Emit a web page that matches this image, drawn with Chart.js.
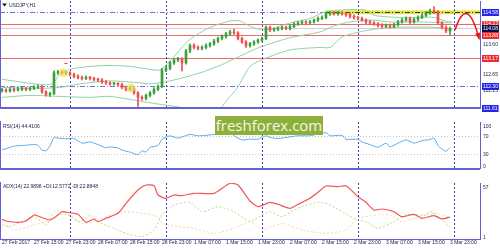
<!DOCTYPE html>
<html>
<head>
<meta charset="utf-8">
<title>USDJPY H1</title>
<script src="https://cdn.jsdelivr.net/npm/chart.js@4/dist/chart.umd.min.js"></script>
<style>
  body { margin: 0; background: #fff; }
  #wrap { position: relative; width: 500px; height: 250px; overflow: hidden; background: #fff; }
  #wrap canvas { position: absolute; left: 0; }
  #brand {
    position: absolute; left: 215px; top: 116px; width: 108px; height: 19px;
    background: #8db03a; color: #f4f6ea; font: 15px "Open Sans", sans-serif;
    line-height: 19px; text-align: center; overflow: hidden; z-index: 5;
  }
</style>
</head>
<body>
<div id="wrap">
  <canvas id="mainChart" width="500" height="123" style="top:0"></canvas>
  <canvas id="rsiChart" width="500" height="60" style="top:121px"></canvas>
  <canvas id="adxChart" width="500" height="69" style="top:181px"></canvas>
  <div id="brand">freshforex.com</div>
</div>
<script>
// USDJPY H1, one bar per hour from 27 Feb 07:00 to 3 Mar 23:00 (113 bars)
const opens = [
  112.15,112.17,112.14,112.19,112.17,112.19,112.22,112.19,112.22,112.25,
  112.28,112.11,112.03,112.05,112.70,112.73,112.70,112.70,112.65,112.59,
  112.56,112.53,112.56,112.53,112.50,112.48,112.42,112.39,112.36,112.36,
  112.34,112.25,112.19,112.22,112.08,111.94,111.91,112.00,112.08,112.19,
  112.28,112.79,112.84,113.01,113.10,113.12,113.01,113.38,113.55,113.49,
  113.46,113.49,113.55,113.60,113.69,113.77,113.83,113.91,113.97,113.94,
  113.77,113.66,113.55,113.60,113.66,113.72,113.77,114.11,114.03,114.05,
  114.08,114.11,114.08,114.14,114.22,114.25,114.28,114.25,114.28,114.34,
  114.39,114.42,114.53,114.56,114.53,114.56,114.53,114.50,114.45,114.42,
  114.39,114.34,114.28,114.25,114.22,114.17,114.14,114.17,114.14,114.19,
  114.28,114.34,114.39,114.28,114.36,114.42,114.48,114.56,114.62,114.59,
  114.25,114.11,114.00
];
const highs = [
  112.22,112.21,112.24,112.23,112.25,112.27,112.25,112.27,112.30,112.33,
  112.31,112.15,112.10,112.76,112.78,112.77,112.76,112.74,112.69,112.64,
  112.60,112.61,112.59,112.57,112.54,112.52,112.47,112.43,112.41,112.40,
  112.38,112.30,112.27,112.26,112.12,111.99,112.04,112.13,112.24,112.33,
  112.84,112.90,113.06,113.15,113.18,113.17,113.43,113.60,113.60,113.54,
  113.54,113.60,113.65,113.74,113.81,113.88,113.96,114.02,114.06,113.98,
  113.81,113.70,113.65,113.70,113.76,113.81,114.16,114.15,114.10,114.12,
  114.15,114.15,114.19,114.26,114.29,114.32,114.32,114.33,114.38,114.44,
  114.47,114.58,114.61,114.60,114.61,114.60,114.57,114.55,114.50,114.46,
  114.43,114.38,114.33,114.29,114.26,114.22,114.21,114.21,114.24,114.33,
  114.39,114.44,114.43,114.41,114.47,114.53,114.61,114.68,114.76,114.63,
  114.29,114.16,114.12
];
const lows = [
  112.10,112.09,112.10,112.12,112.13,112.15,112.14,112.15,112.18,112.21,
  112.06,111.98,111.97,112.02,112.65,112.66,112.64,112.60,112.54,112.51,
  112.48,112.49,112.48,112.45,112.43,112.37,112.34,112.31,112.32,112.29,
  112.20,112.14,112.15,112.03,111.66,111.85,111.86,111.95,112.04,112.15,
  112.24,112.74,112.79,112.96,113.05,112.76,112.97,113.33,113.44,113.41,
  113.41,113.44,113.50,113.55,113.64,113.72,113.78,113.86,113.89,113.72,
  113.61,113.49,113.50,113.55,113.61,113.67,113.73,113.98,113.99,114.01,
  114.03,114.04,114.03,114.10,114.17,114.21,114.20,114.21,114.24,114.29,
  114.35,114.38,114.48,114.49,114.48,114.49,114.45,114.40,114.37,114.35,
  114.30,114.23,114.20,114.17,114.12,114.09,114.10,114.09,114.10,114.15,
  114.24,114.30,114.23,114.24,114.31,114.38,114.44,114.51,114.54,114.20,
  114.06,113.95,113.88
];
const closes = [
  112.17,112.14,112.19,112.17,112.19,112.22,112.19,112.22,112.25,112.28,
  112.11,112.03,112.05,112.70,112.73,112.70,112.70,112.65,112.59,112.56,
  112.53,112.56,112.53,112.50,112.48,112.42,112.39,112.36,112.36,112.34,
  112.25,112.19,112.22,112.08,111.94,111.91,112.00,112.08,112.19,112.28,
  112.79,112.84,113.01,113.10,113.12,113.01,113.38,113.55,113.49,113.46,
  113.49,113.55,113.60,113.69,113.77,113.83,113.91,113.97,113.94,113.77,
  113.66,113.55,113.60,113.66,113.72,113.77,114.11,114.03,114.05,114.08,
  114.11,114.08,114.14,114.22,114.25,114.28,114.25,114.28,114.34,114.39,
  114.42,114.53,114.56,114.53,114.56,114.53,114.50,114.45,114.42,114.39,
  114.34,114.28,114.25,114.22,114.17,114.14,114.17,114.14,114.19,114.28,
  114.34,114.39,114.28,114.36,114.42,114.48,114.56,114.62,114.59,114.25,
  114.11,114.00,114.08
];

// Bollinger bands, read at bar positions
const bbUpperIdx = [0,9.5,12.5,14.5,17,22,27,32,37,39.5,42,47,52,57,59.5,62,64.5,67,72,77,80.75,84.5,90.75,93.25,99.5,108.25,110.75,112.5];
const bbUpperVal = [112.50,112.34,112.36,112.65,112.81,112.90,112.93,112.90,112.81,112.79,113.07,113.74,114.11,114.31,114.31,114.14,114.05,114.05,114.25,114.39,114.59,114.65,114.65,114.48,114.42,114.42,114.31,114.28];
const bbMidIdx = [0,9.5,14.5,19.5,27,34.5,37,42,49.5,54.5,59.5,64.5,72,79.5,83.25,87,92,97,104.5,112.5];
const bbMidVal = [112.25,112.22,112.25,112.36,112.45,112.39,112.36,112.45,112.70,112.93,113.22,113.50,113.79,113.97,114.17,114.28,114.34,114.28,114.28,114.25];
const bbLowIdx = [0,7,14.5,22,27,37,45.75,49.5,53.25,56.25,58.75,62,65.25,72,79.5,82,85.25,92,97.75,108.75,112.5];
const bbLowVal = [111.94,112.00,111.97,111.94,111.97,111.77,111.60,111.41,111.41,111.86,112.22,112.90,113.12,113.41,113.49,113.49,113.83,114.03,114.11,114.11,114.03];

// RSI(14)
const rsiIdx = [0,1,3,5,6,8,9,10,11,12,13,14,16,18,20,22,24,26,27,29,30,32,34,35,36,37,39,40,41,42,44,47,49,51,54,57,58,60,62,64,66,67,69,71,74,77,79,81,82,85,86,89,90,92,94,96,97,99,101,103,105,107,108,109,110,111,112];
const rsiVal = [39.5,42,47.5,49,49.5,51,49.5,39,37.5,48,66.5,65,63.5,64,54,56.5,51,44,46,43.5,39,34.5,29,37.5,34.5,45,49,62.5,66.5,70,65,73,70,71,74,78,70,61,63,62.5,70,66.5,64,66.5,70,70,74,77,70,71,62.5,62.5,56.5,51,45,54,46,54,61,54,59.5,62,65,49,41,36.5,44.4];

// ADX(14), +DI, -DI
const adxIdx = [0,1,4,6,8,9,12,14,15,17,19,21,23,24,26,29,31,34,36,38,39,41,43,45,48,53,57,59,62,64,67,69,72,74,77,79,81,84,86,89,91,93,95,98,100,103,105,108,110,112];
const adxVal = [20.7,19,17.7,19,25,24,20,25,28.3,27.3,25.7,17.7,21,18.3,21.7,26.7,36.7,50,55,54.3,45,41.7,45,44.3,46.7,46.7,56.7,55,39,33.3,37.7,35.7,31.7,35.7,41.7,47.7,54,53.3,54.3,43.3,37.7,30,31,28.3,23.3,25.7,21.7,24.3,21,23];
const pdiIdx = [0,2,8,11,13,14,16,19,21,22,24,28,31,35,38,40,43,47,50,54,58,62,65,67,70,73,75,79,81,84,88,91,94,98,101,106,107,110,112];
const pdiVal = [15,13.3,23.3,15,28.3,30,26.7,18.3,21.7,25,18.3,11.7,6.7,3.3,10,25,35,37.7,28.3,33.3,28.3,18.5,25,28.3,23.3,30,33.3,37.7,36.7,30.7,21.7,18.3,11.7,18.3,25,25,29,20,12.6];
const mdiIdx = [0,3,8,12,14,17,20,23,28,31,35,39,40,44,48,53,58,62,65,70,75,81,86,89,94,97,100,103,108,112];
const mdiVal = [18.3,10,15,20,25,25,16.7,18.3,26.7,28.3,26.7,23.3,16.7,13.3,11.7,6.7,11.7,18.3,10,16.7,10,6.7,10,21.7,25,25,18.3,21.7,26.7,22.9];

// axis and level texts
const xTickIdx = [0,8,16,24,32,40,48,56,64,72,80,88,96,104,112];
const xTickText = ['27 Feb 2017','27 Feb 15:00','27 Feb 23:00','28 Feb 07:00','28 Feb 15:00','28 Feb 23:00',
  '1 Mar 07:00','1 Mar 15:00','1 Mar 23:00','2 Mar 07:00','2 Mar 15:00','2 Mar 23:00',
  '3 Mar 07:00','3 Mar 15:00','3 Mar 23:00'];
const daySepIdx = [17, 41, 65, 89, 113];
const priceTicks = [114.58, 114.23, 114.08, 113.88, 113.60, 113.17, 112.65, 112.30, 112.15, 111.61];
const priceTickBg = ['#2626e8', '#f02a2a', '#0c0c48', '#f02a2a', '', '#f02a2a', '', '#2626e8', '', '#2626e8'];
const redLevels = [114.23, 113.88, 113.17];
const blueLevels = [114.58, 112.30];
const floorLevel = 111.61;
const lastPrice = 114.08;
const zoneStart = 80.75, zoneHigh = 114.64, zoneLow = 114.52;
const rsiLevels = [70, 30];
const rsiTicks = [100, 70, 30, 0];
const adxTicks = [57, 1];
const signalIdx = [15.3, 32.2];
const signalVal = [112.70, 112.23];
const fractalIdx = 16, fractalVal = 113.00;
const arrowFrom = [113.25, 114.03], arrowVia = [116.25, 115.17], arrowTo = [119.25, 113.77];

const FONT = '"Liberation Sans", Arial, sans-serif';
const FRAME = '#6262d4';
const SEP = '#3e3e9e';
const TEXT = '#1c1c4c';
const UP = '#3c9f3c', DOWN = '#ee5050';

const pts = (xs, ys) => xs.map((v, i) => ({ x: v, y: ys[i] }));

function xAxis(display) {
  return {
    type: 'linear', min: -0.5, max: 119.5, display: display, offset: false,
    grid: { display: false, drawTicks: false },
    border: { display: true, color: FRAME, width: 1 },
    ticks: {
      font: { family: FONT, size: 5 }, color: TEXT, align: 'start', padding: 1,
      autoSkip: false, maxRotation: 0, minRotation: 0,
      callback: (v, i) => xTickText[i]
    },
    afterBuildTicks(s) { s.ticks = xTickIdx.map(v => ({ value: v })); },
    afterFit(s) { s.height = 11; s.paddingLeft = 0; s.paddingRight = 0; }
  };
}

function yAxis(min, max) {
  return {
    type: 'linear', position: 'right', min: min, max: max,
    grid: { display: false, drawTicks: false },
    border: { display: true, color: FRAME, width: 1 },
    ticks: { display: false },
    afterFit(s) { s.width = 20; s.paddingTop = 0; s.paddingBottom = 0; }
  };
}

function hline(ctx, x0, x1, py, color, width, dash) {
  ctx.save();
  ctx.strokeStyle = color;
  ctx.lineWidth = width;
  ctx.setLineDash(dash || []);
  const yy = width % 2 ? Math.round(py) + 0.5 : Math.round(py);
  ctx.beginPath(); ctx.moveTo(x0, yy); ctx.lineTo(x1, yy); ctx.stroke();
  ctx.restore();
}

function daySeps(chart) {
  const { ctx, chartArea: a, scales: { x } } = chart;
  ctx.save();
  ctx.strokeStyle = SEP; ctx.lineWidth = 1; ctx.setLineDash([2, 2]);
  daySepIdx.forEach(i => {
    const px = Math.round(x.getPixelForValue(i)) + 0.5;
    ctx.beginPath(); ctx.moveTo(px, a.top); ctx.lineTo(px, a.bottom); ctx.stroke();
  });
  ctx.restore();
}

function leftBorder(chart) {
  const { ctx, chartArea: a } = chart;
  ctx.save();
  ctx.fillStyle = FRAME;
  ctx.fillRect(0, a.top - 1, 1, a.bottom - a.top + 2);
  ctx.restore();
}

function axisLabels(chart, values, bgs, clamp, digits) {
  const { ctx, chartArea: a, scales: { y } } = chart;
  ctx.save();
  ctx.font = '5px ' + FONT;
  ctx.textBaseline = 'middle';
  ctx.textAlign = 'left';
  values.forEach((v, i) => {
    let py = y.getPixelForValue(v);
    if (clamp) py = Math.min(Math.max(py, a.top + 4), a.bottom - 2);
    const txt = v.toFixed(digits);
    const tx = a.right + 3;
    const w = ctx.measureText(txt).width;
    if (bgs && bgs[i]) {
      ctx.fillStyle = bgs[i];
      ctx.fillRect(tx - 1, Math.round(py) - 3, w + 2, 7);
      ctx.fillStyle = '#fff';
    } else {
      ctx.fillStyle = TEXT;
    }
    ctx.fillText(txt, tx, py + 0.5);
  });
  ctx.restore();
}

function paneTitle(chart, text, px, py) {
  const { ctx } = chart;
  ctx.save();
  ctx.font = '5px ' + FONT;
  ctx.textBaseline = 'middle';
  ctx.fillStyle = TEXT;
  ctx.fillText(text, px, py);
  ctx.restore();
}

const mainDecor = {
  id: 'mainDecor',
  beforeDatasetsDraw(chart) {
    const { ctx, chartArea: a, scales: { x, y } } = chart;
    hline(ctx, a.left, a.right, y.getPixelForValue(lastPrice), '#cfcfcf', 1);
    redLevels.forEach(v => hline(ctx, a.left, a.right, y.getPixelForValue(v), '#f26868', 1));
    blueLevels.forEach(v => hline(ctx, a.left, a.right, y.getPixelForValue(v), '#6e6ee8', 1, [5, 2, 1, 2]));
    // highlighted resistance zone
    const zx = x.getPixelForValue(zoneStart);
    const zt = y.getPixelForValue(zoneHigh), zb = y.getPixelForValue(zoneLow);
    ctx.save();
    ctx.fillStyle = '#e2e24a';
    ctx.fillRect(zx, zt, a.right - zx, zb - zt);
    ctx.restore();
    hline(ctx, zx, a.right, y.getPixelForValue(blueLevels[0]), '#3c3c20', 1, [5, 2, 1, 2]);
    daySeps(chart);
  },
  afterDatasetsDraw(chart) {
    const { ctx, chartArea: a, scales: { x, y } } = chart;
    ctx.save();
    // signal circles
    ctx.fillStyle = 'rgba(240, 228, 70, 0.65)';
    signalIdx.forEach((v, i) => {
      ctx.beginPath();
      ctx.arc(x.getPixelForValue(v), y.getPixelForValue(signalVal[i]), 4.5, 0, Math.PI * 2);
      ctx.fill();
    });
    // fractal mark
    ctx.fillStyle = '#f04040';
    ctx.fillRect(x.getPixelForValue(fractalIdx) - 1.5, Math.round(y.getPixelForValue(fractalVal)), 3, 1);
    // forecast arrow
    const sx = x.getPixelForValue(arrowFrom[0]), sy = y.getPixelForValue(arrowFrom[1]);
    const cx = x.getPixelForValue(arrowVia[0]), cy = y.getPixelForValue(arrowVia[1]);
    const ex = x.getPixelForValue(arrowTo[0]), ey = y.getPixelForValue(arrowTo[1]);
    ctx.strokeStyle = '#e01c1c';
    ctx.lineWidth = 1.5;
    ctx.beginPath(); ctx.moveTo(sx, sy); ctx.quadraticCurveTo(cx, cy, ex, ey); ctx.stroke();
    const ang = Math.atan2(ey - cy, ex - cx);
    ctx.fillStyle = '#e01c1c';
    ctx.beginPath();
    ctx.moveTo(ex + Math.cos(ang) * 2, ey + Math.sin(ang) * 2);
    ctx.lineTo(ex - Math.cos(ang - 0.45) * 6, ey - Math.sin(ang - 0.45) * 6);
    ctx.lineTo(ex - Math.cos(ang + 0.45) * 6, ey - Math.sin(ang + 0.45) * 6);
    ctx.closePath(); ctx.fill();
    ctx.restore();
    // pane frame
    hline(ctx, a.left, a.right, y.getPixelForValue(floorLevel), FRAME, 2);
    leftBorder(chart);
    // symbol title
    ctx.save();
    ctx.fillStyle = '#111';
    ctx.beginPath();
    ctx.moveTo(a.left + 2, 3.5); ctx.lineTo(a.left + 7, 3.5); ctx.lineTo(a.left + 4.5, 6.5);
    ctx.closePath(); ctx.fill();
    ctx.restore();
    paneTitle(chart, 'USDJPY,H1', a.left + 9, 5.5);
    axisLabels(chart, priceTicks, priceTickBg, false, 2);
  }
};

const rsiDecor = {
  id: 'rsiDecor',
  beforeDatasetsDraw(chart) {
    const { ctx, chartArea: a, scales: { y } } = chart;
    rsiLevels.forEach(v => hline(ctx, a.left, a.right, y.getPixelForValue(v), '#c4c4c4', 1, [1, 2]));
    daySeps(chart);
  },
  afterDatasetsDraw(chart) {
    const { ctx, chartArea: a } = chart;
    ctx.save();
    ctx.fillStyle = FRAME;
    ctx.fillRect(0, a.bottom, a.right, 2);
    ctx.restore();
    leftBorder(chart);
    paneTitle(chart, 'RSI(14) 44.4106', a.left + 3, a.top + 4.5);
    axisLabels(chart, rsiTicks, null, true, 0);
  }
};

const adxDecor = {
  id: 'adxDecor',
  beforeDatasetsDraw(chart) { daySeps(chart); },
  afterDatasetsDraw(chart) {
    const { chartArea: a } = chart;
    leftBorder(chart);
    paneTitle(chart, 'ADX(14) 22.9898 +DI:12.5772 -DI:22.8848', a.left + 3, a.top + 3.5);
    axisLabels(chart, adxTicks, null, true, 0);
  }
};

const common = {
  responsive: false,
  animation: false,
  devicePixelRatio: 1,
  events: [],
  plugins: { legend: { display: false }, tooltip: { enabled: false } }
};

const candleColor = ctx => closes[ctx.dataIndex] >= opens[ctx.dataIndex] ? UP : DOWN;
const band = (idx, val) => ({
  type: 'line', data: pts(idx, val), borderColor: '#8fd3a4', borderWidth: 1,
  pointRadius: 0, tension: 0.25
});

new Chart(document.getElementById('mainChart'), {
  type: 'bar',
  data: {
    datasets: [
      {
        data: closes.map((c, i) => ({ x: i, y: [opens[i], c] })),
        backgroundColor: candleColor, barThickness: 2, grouped: false, minBarLength: 1
      },
      {
        data: lows.map((l, i) => ({ x: i, y: [l, highs[i]] })),
        backgroundColor: candleColor, barThickness: 1, grouped: false
      },
      band(bbUpperIdx, bbUpperVal),
      band(bbMidIdx, bbMidVal),
      band(bbLowIdx, bbLowVal)
    ]
  },
  options: {
    ...common,
    layout: { padding: { left: 0, top: 1, right: 0, bottom: 4 } },
    scales: { x: xAxis(false), y: yAxis(111.61, 114.93) }
  },
  plugins: [mainDecor]
});

new Chart(document.getElementById('rsiChart'), {
  type: 'line',
  data: {
    datasets: [{
      data: pts(rsiIdx, rsiVal), borderColor: '#5aaef2', borderWidth: 1,
      pointRadius: 0, tension: 0.2
    }]
  },
  options: {
    ...common,
    layout: { padding: { left: 0, top: 1, right: 0, bottom: 2 } },
    scales: { x: xAxis(false), y: yAxis(0, 100) }
  },
  plugins: [rsiDecor]
});

new Chart(document.getElementById('adxChart'), {
  type: 'line',
  data: {
    datasets: [
      { data: pts(adxIdx, adxVal), borderColor: '#f05656', borderWidth: 1.2, pointRadius: 0, tension: 0.2 },
      { data: pts(pdiIdx, pdiVal), borderColor: '#bcd98a', borderWidth: 1, borderDash: [2, 2], pointRadius: 0, tension: 0.2 },
      { data: pts(mdiIdx, mdiVal), borderColor: '#f4d6b4', borderWidth: 1, borderDash: [2, 2], pointRadius: 0, tension: 0.2 }
    ]
  },
  options: {
    ...common,
    layout: { padding: { left: 0, top: 2, right: 0, bottom: 0 } },
    scales: { x: xAxis(true), y: yAxis(1, 57) }
  },
  plugins: [adxDecor]
});
</script>
</body>
</html>
